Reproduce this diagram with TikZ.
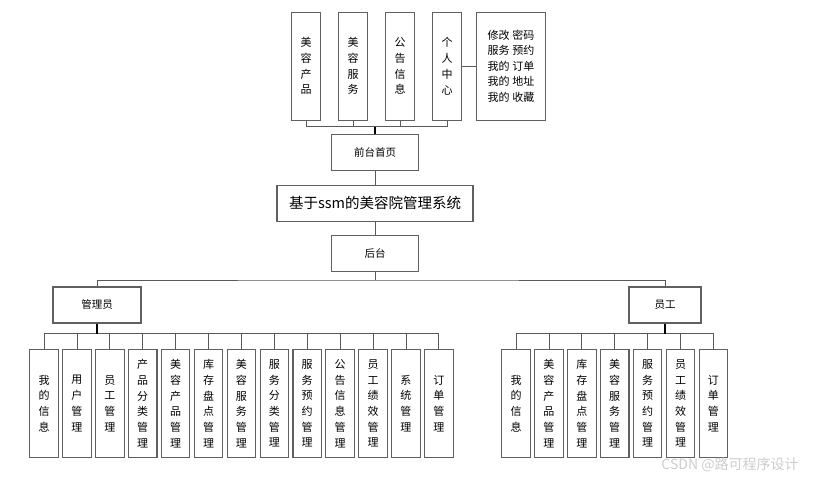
\documentclass[tikz,border=0pt]{standalone}
\usepackage{fontspec}
\setmainfont{Noto Sans CJK SC}
\usetikzlibrary{positioning}

\begin{document}
\begin{tikzpicture}[
        x=1pt, y=-1pt,
        node distance = 3.3pt,
        box/.style = {draw=gray!75!black, line width=1.1pt, fill=white, minimum width=87pt, minimum height=36pt, align=center, inner sep=1pt, font=\fontsize{10.5}{13}\selectfont},
        col/.style = {box, minimum width=28.5pt, minimum height=108pt, font=\fontsize{11}{15.7}\selectfont},
        link/.style = {draw=gray!70!black, line width=0.8pt},
        stem/.style = {draw=black, line width=1.5pt}
      ]
      \useasboundingbox (0,0) rectangle (816,480);

      % ================= FRONT =================
      \node[col] (prod) at (306,66.2) {美\\容\\产\\品};
      \node[col] (serv) at (353,66.2) {美\\容\\服\\务};
      \node[col] (notice) at (400,66.2) {公\\告\\信\\息};
      \node[col] (center) at (447,66.2) {个\\人\\中\\心};
      \node[col, minimum width=68.5pt, font=\fontsize{11}{15.5}\selectfont] (centerlist) at (511,66.2)
        {修改\hspace{3pt}密码\\服务\hspace{3pt}预约\\我的\hspace{3pt}订单\\我的\hspace{3pt}地址\\我的\hspace{3pt}收藏};
      \draw[link] (center) -- (centerlist);

      \node[box] (front) at (375,152.3) {前台首页};
      \coordinate (frontbar) at (375,126.7);
      \draw[link] (prod.south) |- (frontbar) -| (center.south);
      \draw[link] (serv.south) -- (serv.south |- frontbar);
      \draw[link] (notice.south) -- (notice.south |- frontbar);
      \draw[stem] (frontbar) -- (front.north);

      % ================= SYSTEM =================
      \node[box, minimum width=196pt, minimum height=36.5pt, font=\fontsize{14.5}{17}\selectfont] (sys) at (375,203.3) {基于ssm的美容院管理系统};
      \node[box] (back) at (375,253.3) {后台};
      \draw[link] (front) -- (sys);
      \draw[link] (sys) -- (back);

      % ================= BACK =================
      \node[box, minimum width=88pt] (admin) at (97,305) {管理员};
      \node[box, minimum width=72pt] (staff) at (665,305) {员工};
      \coordinate (backbar) at (375,280);
      \draw[link] (back.south) -- (backbar);
      \draw[link] (admin.north) |- (backbar) -| (staff.north);

      % 管理员
      \node[col] (a1) at (44,403.5) {我\\的\\信\\息};
      \node[col, right=of a1] (a2) {用\\户\\管\\理};
      \node[col, right=of a2] (a3) {员\\工\\管\\理};
      \node[col, right=of a3] (a4) {产\\品\\分\\类\\管\\理};
      \node[col, right=of a4] (a5) {美\\容\\产\\品\\管\\理};
      \node[col, right=of a5] (a6) {库\\存\\盘\\点\\管\\理};
      \node[col, right=of a6] (a7) {美\\容\\服\\务\\管\\理};
      \node[col, right=of a7] (a8) {服\\务\\分\\类\\管\\理};
      \node[col, right=of a8] (a9) {服\\务\\预\\约\\管\\理};
      \node[col, right=of a9] (a10) {公\\告\\信\\息\\管\\理};
      \node[col, right=of a10] (a11) {员\\工\\绩\\效\\管\\理};
      \node[col, right=of a11] (a12) {系\\统\\管\\理};
      \node[col, right=of a12] (a13) {订\\单\\管\\理};
      \coordinate (adminbar) at (97,333.5);
      \draw[link] (a1.north) |- (adminbar) -| (a13.north);
      \foreach \i in {2,...,12}
        \draw[link] (a\i.north) -- (a\i.north |- adminbar);
      \draw[stem] (admin.south) -- (adminbar);

      % 员工
      \node[col] (s1) at (516,403.5) {我\\的\\信\\息};
      \node[col, right=of s1] (s2) {美\\容\\产\\品\\管\\理};
      \node[col, right=of s2] (s3) {库\\存\\盘\\点\\管\\理};
      \node[col, right=of s3] (s4) {美\\容\\服\\务\\管\\理};
      \node[col, right=of s4] (s5) {服\\务\\预\\约\\管\\理};
      \node[col, right=of s5] (s6) {员\\工\\绩\\效\\管\\理};
      \node[col, right=of s6] (s7) {订\\单\\管\\理};
      \coordinate (staffbar) at (665,333.5);
      \draw[link] (s1.north) |- (staffbar) -| (s7.north);
      \foreach \i in {2,...,6}
        \draw[link] (s\i.north) -- (s\i.north |- staffbar);
      \draw[stem] (staff.south) -- (staffbar);

      \node[font=\fontsize{14}{16}\selectfont, text=gray!40] (mark) at (730,465) {CSDN @路可程序设计};

    \end{tikzpicture}
\end{document}
